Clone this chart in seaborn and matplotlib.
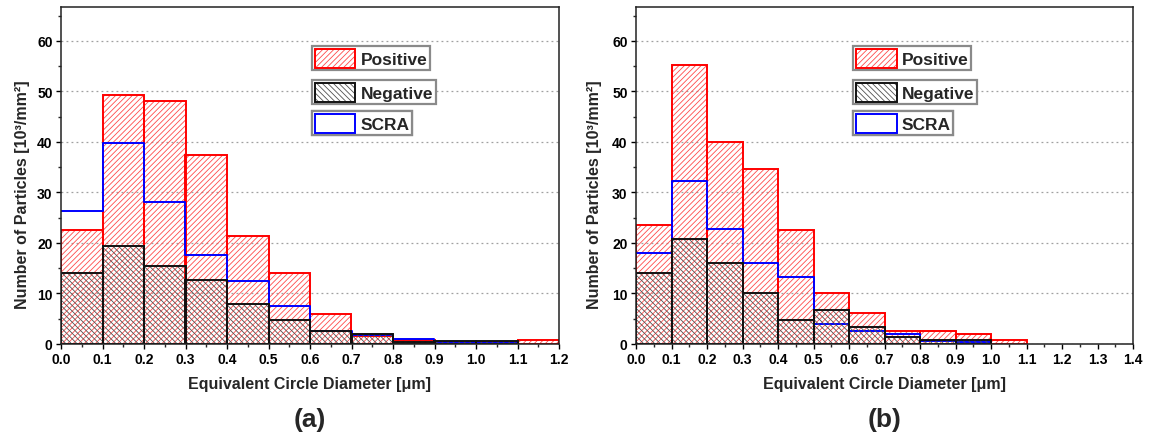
import numpy as np
import pandas as pd
import matplotlib
matplotlib.use("Agg")
import matplotlib.pyplot as plt
from matplotlib.patches import Patch
from matplotlib.ticker import MultipleLocator, FormatStrFormatter
import seaborn as sns

# ---------------- data ----------------
edges_a = [0.0, 0.1, 0.2, 0.3, 0.4, 0.5, 0.6, 0.7, 0.8, 0.9, 1.0, 1.1, 1.2]
pos_a = [22.6, 49.3, 48.0, 37.4, 21.3, 14.0, 6.0, 1.5, 0.7, 0.3, 0.3, 0.7]
neg_a = [14.0, 19.4, 15.4, 12.6, 8.0, 4.8, 2.6, 1.9, 0.3, 0.6, 0.6, 0.0]
scra_a = [26.3, 39.8, 28.1, 17.7, 12.5, 7.5, 2.5, 1.7, 0.9, 0.4, 0.2, 0.0]

edges_b = [0.0, 0.1, 0.2, 0.3, 0.4, 0.5, 0.6, 0.7, 0.8, 0.9, 1.0, 1.1, 1.2, 1.3, 1.4]
pos_b = [23.5, 55.3, 40.0, 34.7, 22.6, 10.0, 6.05, 2.6, 2.6, 2.0, 0.7, 0.0, 0.0, 0.0]
neg_b = [14.0, 20.7, 16.1, 10.0, 4.8, 6.7, 3.3, 1.3, 0.7, 0.7, 0.0, 0.0, 0.0, 0.0]
scra_b = [18.1, 32.2, 22.8, 16.1, 13.3, 3.9, 2.6, 1.9, 0.5, 0.4, 0.0, 0.0, 0.0, 0.0]

series_names = ["Positive", "Negative", "SCRA"]
panel_labels = ["(a)", "(b)"]
xlabel = "Equivalent Circle Diameter [\u03bcm]"
ylabel = "Number of Particles [10\u00b3/mm\u00b2]"

# ---------------- style ----------------
sns.set_style("ticks")
plt.rcParams["font.family"] = ["Liberation Sans", "DejaVu Sans"]
plt.rcParams["font.weight"] = "bold"
plt.rcParams["hatch.linewidth"] = 0.6

RED = "#ff0000"
RED_HATCH = "#ff4a4a"
BLK = "#111111"
BLK_HATCH = "#505050"
BLUE = "#0000ff"
HATCH_POS = "//////"
HATCH_NEG = "\\\\\\\\\\\\"

fig = plt.figure(figsize=(11.54, 4.35), dpi=100)
ax_a = fig.add_axes([61 / 1154, 90 / 435, 498 / 1154, 337 / 435])
ax_b = fig.add_axes([636 / 1154, 90 / 435, 497 / 1154, 337 / 435])


def make_df(edges, vals):
    e = np.asarray(edges, dtype=float)
    return pd.DataFrame({"d": (e[:-1] + e[1:]) / 2, "w": np.asarray(vals, dtype=float)})


def draw_bars(ax, edges, vals, edgecolor, hatchcolor, hatch, z):
    df = make_df(edges, vals)
    bins = [float(v) for v in edges]
    n0 = len(ax.patches)
    sns.histplot(data=df, x="d", weights="w", bins=bins, ax=ax, element="bars",
                 fill=True, facecolor="none", edgecolor=hatchcolor,
                 hatch=hatch, linewidth=0, zorder=z)
    for p in list(ax.patches[n0:]):
        if p.get_height() == 0:
            p.remove()
    n0 = len(ax.patches)
    sns.histplot(data=df, x="d", weights="w", bins=bins, ax=ax, element="bars",
                 fill=True, facecolor="none", edgecolor=edgecolor,
                 linewidth=1.4, zorder=z + 0.5)
    for p in list(ax.patches[n0:]):
        if p.get_height() == 0:
            p.remove()


def draw_step(ax, edges, vals, color, z):
    v = np.asarray(vals, dtype=float)
    n = int(np.nonzero(v)[0].max()) + 1
    e = [float(x) for x in edges[: n + 1]]
    df = make_df(e, v[:n])
    sns.histplot(data=df, x="d", weights="w", bins=e, ax=ax, element="step",
                 fill=False, color=color, linewidth=1.4, zorder=z)


def style_axes(ax, xmax, label):
    ax.set_xlim(0, xmax)
    ax.set_ylim(0, 66.7)
    ax.xaxis.set_major_locator(MultipleLocator(0.1))
    ax.xaxis.set_minor_locator(MultipleLocator(0.05))
    ax.xaxis.set_major_formatter(FormatStrFormatter("%.1f"))
    ax.yaxis.set_major_locator(MultipleLocator(10))
    ax.yaxis.set_minor_locator(MultipleLocator(5))
    ax.tick_params(axis="both", which="major", direction="out", length=3.5,
                   width=1.0, labelsize=10, pad=2.5, colors="black")
    ax.tick_params(axis="both", which="minor", direction="out", length=2,
                   width=1.0)
    ax.tick_params(top=False, right=False, which="both")
    for lab in ax.get_xticklabels() + ax.get_yticklabels():
        lab.set_fontweight("bold")
    for s in ax.spines.values():
        s.set_visible(True)
        s.set_color("#222222")
        s.set_linewidth(1.1)
        s.set_zorder(10)
    ax.yaxis.grid(True, which="major", color="#a0a0a0", linestyle=(0, (1.5, 2.5)),
                  linewidth=0.9)
    ax.xaxis.grid(False)
    ax.set_axisbelow(True)
    ax.set_xlabel(xlabel, fontsize=11.5, fontweight="bold")
    ax.set_ylabel(ylabel, fontsize=11.5, fontweight="bold")
    ax.xaxis.set_label_coords(0.5, -0.095)
    ax.yaxis.set_label_coords(-0.062 if xmax < 1.3 else -0.068, 0.445)
    ax.text(0.5, -0.223, label, transform=ax.transAxes, ha="center",
            va="center", fontsize=19, fontweight="bold")

    handles = [
        (Patch(facecolor="white", edgecolor=RED_HATCH, hatch=HATCH_POS, linewidth=0),
         Patch(facecolor="none", edgecolor=RED, linewidth=1.4)),
        (Patch(facecolor="white", edgecolor=BLK_HATCH, hatch=HATCH_NEG, linewidth=0),
         Patch(facecolor="none", edgecolor=BLK, linewidth=1.4)),
        (Patch(facecolor="white", edgecolor=BLUE, linewidth=1.4),),
    ]
    x0 = 0.504 if xmax < 1.3 else 0.437
    tops = [0.884, 0.783, 0.691]
    for h, name, t in zip(handles, series_names, tops):
        leg = ax.legend([h], [name], loc="upper left", bbox_to_anchor=(x0, t),
                        borderaxespad=0, fancybox=False, framealpha=1,
                        edgecolor="#8a8a8a", borderpad=0.15,
                        handlelength=2.35, handleheight=1.3,
                        handletextpad=0.3,
                        prop={"size": 12.5, "weight": "bold"})
        leg.get_frame().set_linewidth(1.6)
        leg.set_zorder(20)
        ax.add_artist(leg)


for ax, edges, pos, neg, scra, xmax, lab in [
    (ax_a, edges_a, pos_a, neg_a, scra_a, 1.2, panel_labels[0]),
    (ax_b, edges_b, pos_b, neg_b, scra_b, 1.4, panel_labels[1]),
]:
    draw_bars(ax, edges, pos, RED, RED_HATCH, HATCH_POS, 2)
    draw_step(ax, edges, scra, BLUE, 3)
    draw_bars(ax, edges, neg, BLK, BLK_HATCH, HATCH_NEG, 4)
    style_axes(ax, xmax, lab)

fig.savefig("out.png", dpi=100)
